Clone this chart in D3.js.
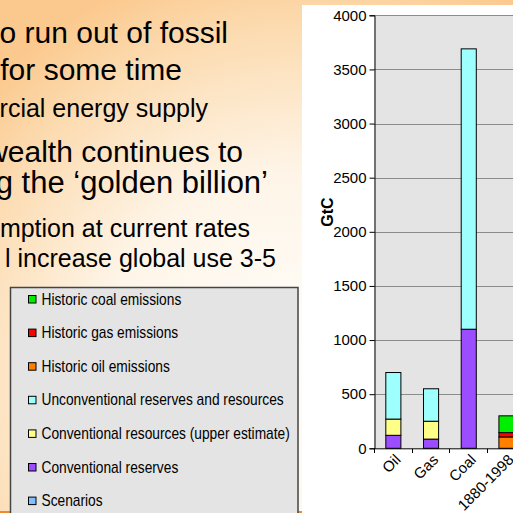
<!DOCTYPE html>
<html>
<head>
<meta charset="utf-8">
<script src="https://cdn.jsdelivr.net/npm/d3@7"></script>
<style>
  html, body { margin: 0; padding: 0; background: #fff; }
  svg { display: block; }
</style>
</head>
<body>
<svg id="slide" width="513" height="513"></svg>
<script>
// Carbon in fossil fuel stocks vs. historic emissions (GtC)
const categories = ["Oil", "Gas", "Coal", "1880-1998"];
const conventionalReserves  = [120,  85, 1100,   0];
const conventionalResources = [150, 165,    0,   0];
const unconventional        = [430, 300, 2590,   0];
const historicOil           = [  0,   0,    0, 105];
const historicGas           = [  0,   0,    0,  40];
const historicCoal          = [  0,   0,    0, 155];
const yTicks = [0, 500, 1000, 1500, 2000, 2500, 3000, 3500, 4000];

const seriesList = [
  { name: "Conventional reserves",                   values: conventionalReserves,  color: "#9b4dff" },
  { name: "Conventional resources (upper estimate)", values: conventionalResources, color: "#ffff88" },
  { name: "Unconventional reserves and resources",   values: unconventional,        color: "#9effff" },
  { name: "Historic oil emissions",                  values: historicOil,           color: "#ff8000" },
  { name: "Historic gas emissions",                  values: historicGas,           color: "#ff0000" },
  { name: "Historic coal emissions",                 values: historicCoal,          color: "#00ee00" }
];

const legendItems = [
  { name: "Historic coal emissions", color: "#00ee00" },
  { name: "Historic gas emissions", color: "#ff0000" },
  { name: "Historic oil emissions", color: "#ff8000" },
  { name: "Unconventional reserves and resources", color: "#9effff" },
  { name: "Conventional resources (upper estimate)", color: "#ffff88" },
  { name: "Conventional reserves", color: "#9b4dff" },
  { name: "Scenarios", color: "#80c0ff" }
];

const slideLines = [
  { text: "o run out of fossil", size: 30, right: 228, base: 43 },
  { text: "for some time", size: 30, right: 182, base: 80 },
  { text: "rcial energy supply", size: 25, right: 208, base: 117 },
  { text: "wealth continues to", size: 30, right: 243, base: 162 },
  { text: "g the \u2018golden billion\u2019", size: 31, right: 268, base: 193 },
  { text: "mption at current rates", size: 25, right: 250, base: 237 },
  { text: "l increase global use 3-5", size: 25, right: 276, base: 267 }
];

const svg = d3.select("#slide");
const sans = "'Liberation Sans', Arial, sans-serif";

// slide background
const defs = svg.append("defs");
const bg = defs.append("radialGradient").attr("id", "bgGrad")
  .attr("cx", "60%").attr("cy", "75%").attr("r", "85%")
  .attr("fx", "55%").attr("fy", "70%");
bg.append("stop").attr("offset", "0%").attr("stop-color", "#fffdf9");
bg.append("stop").attr("offset", "45%").attr("stop-color", "#fef5e8");
bg.append("stop").attr("offset", "80%").attr("stop-color", "#fcdcb2");
bg.append("stop").attr("offset", "100%").attr("stop-color", "#fbc98e");
svg.append("rect").attr("width", 513).attr("height", 513).attr("fill", "url(#bgGrad)");

// decorative rule near the bottom
svg.append("line").attr("x1", 0).attr("x2", 513).attr("y1", 512).attr("y2", 512)
  .attr("stroke", "#f08a2a").attr("stroke-width", 2);

// slide text
svg.append("g").selectAll("text").data(slideLines).join("text")
  .attr("x", d => d.right).attr("y", d => d.base)
  .attr("text-anchor", "end")
  .attr("font-family", sans)
  .attr("font-size", d => d.size)
  .attr("fill", "#000")
  .text(d => d.text);

// legend box
const legend = svg.append("g");
legend.append("rect").attr("x", 10.5).attr("y", 287.5).attr("width", 287.5).attr("height", 240)
  .attr("fill", "#e4e4e4").attr("stroke", "#444").attr("stroke-width", 1.5);
const li = legend.selectAll("g.item").data(legendItems).join("g")
  .attr("transform", (d, i) => `translate(0,${299 + i * 33.6})`);
li.append("rect").attr("x", 28.5).attr("y", -3.5).attr("width", 7.5).attr("height", 7.5)
  .attr("fill", d => d.color).attr("stroke", "#000").attr("stroke-width", 1);
li.append("text").attr("transform", "translate(41.5,5.5) scale(0.86,1)")
  .attr("font-family", sans).attr("font-size", 16).attr("fill", "#000")
  .text(d => d.name);

// chart panel
svg.append("rect").attr("x", 302).attr("y", 5).attr("width", 220).attr("height", 520).attr("fill", "#fff");

const y = d3.scaleLinear().domain([0, 4000]).range([448.3, 15.3]);
const x = d3.scaleBand().domain(categories).range([374, 524.8]).paddingInner(0.6).paddingOuter(0.3);
const step = x.step();

const plot = svg.append("g");
plot.append("rect").attr("x", 374).attr("y", y(4000)).attr("width", 160).attr("height", y(0) - y(4000))
  .attr("fill", "#e4e4e4");

// gridlines
plot.selectAll("line.grid").data(yTicks.filter(t => t > 0)).join("line")
  .attr("x1", 374).attr("x2", 540)
  .attr("y1", d => Math.round(y(d)) + 0.5).attr("y2", d => Math.round(y(d)) + 0.5)
  .attr("stroke", "#8c8c8c").attr("stroke-width", 1);

// stacked bars
const stack = d3.stack().keys(d3.range(seriesList.length))
  .value((row, k) => seriesList[k].values[row]);
const stacked = stack(d3.range(categories.length));
stacked.forEach((layer, k) => {
  plot.append("g").selectAll("rect").data(layer.filter(s => s[1] - s[0] > 0)).join("rect")
    .attr("x", s => x(categories[s.data]) + 0.5)
    .attr("y", s => y(s[1]))
    .attr("width", x.bandwidth())
    .attr("height", s => y(s[0]) - y(s[1]))
    .attr("fill", seriesList[k].color)
    .attr("stroke", "#000").attr("stroke-width", 1);
});

// y axis
const yAxis = d3.axisLeft(y).tickValues(yTicks).tickSize(5).tickPadding(3).tickFormat(d3.format("d"));
const ya = svg.append("g").attr("transform", "translate(374.5,0)").call(yAxis);
ya.select(".domain").attr("stroke", "#000");
ya.selectAll(".tick line").attr("stroke", "#000");
ya.selectAll(".tick text").attr("font-family", sans).attr("font-size", 15).attr("fill", "#000");

// x axis with ticks at category boundaries
const xa = svg.append("g");
xa.append("line").attr("x1", 374).attr("x2", 540).attr("y1", 448.8).attr("y2", 448.8).attr("stroke", "#000");
xa.selectAll("line.tk").data(d3.range(categories.length + 1)).join("line")
  .attr("x1", i => Math.round(374 + i * step) + 0.5).attr("x2", i => Math.round(374 + i * step) + 0.5)
  .attr("y1", 448.8).attr("y2", 453).attr("stroke", "#000");
xa.selectAll("text").data(categories).join("text")
  .attr("transform", d => `translate(${x(d) + x.bandwidth() / 2 + 5},${457}) rotate(-45)`)
  .attr("text-anchor", "end").attr("dy", "0.35em")
  .attr("font-family", sans).attr("font-size", 15).attr("fill", "#000")
  .text(d => d);

// y axis title
svg.append("text").attr("transform", "translate(333,212) rotate(-90)")
  .attr("text-anchor", "middle")
  .attr("font-family", sans).attr("font-weight", "bold").attr("font-size", 16).attr("fill", "#000")
  .text("GtC");
</script>
</body>
</html>
